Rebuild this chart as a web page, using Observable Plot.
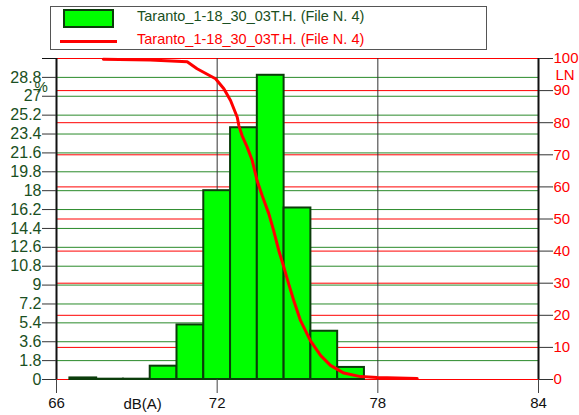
<!DOCTYPE html>
<html>
<head>
<meta charset="utf-8">
<script src="https://cdn.jsdelivr.net/npm/d3@7"></script>
<script src="https://cdn.jsdelivr.net/npm/@observablehq/plot@0.6"></script>
<style>
  html, body { margin: 0; padding: 0; background: #fff; }
  #chart { position: relative; width: 579px; height: 415px; font-family: "Liberation Sans", Arial, sans-serif; }
  #legend { position: absolute; left: 50px; top: 6px; width: 437px; height: 44px; box-sizing: border-box;
            border: 1px solid #555; background: #fff; font-size: 14.5px; line-height: 17px; }
  #legend .swatch { position: absolute; left: 12px; top: 2px; width: 51px; height: 19px; box-sizing: border-box;
                    background: #00ff00; border: 2px solid #0b3d0b; }
  #legend .line { position: absolute; left: 9px; top: 33px; width: 57px; height: 3px; background: #ff0000; }
  #legend .t1 { position: absolute; left: 86px; top: 1px; color: #1a4f22; white-space: nowrap; }
  #legend .t2 { position: absolute; left: 86px; top: 24px; color: #ff0000; white-space: nowrap; }
</style>
</head>
<body>
<div id="chart">
  <div id="legend">
    <div class="swatch"></div><div class="t1">Taranto_1-18_30_03T.H. (File N. 4)</div>
    <div class="line"></div><div class="t2">Taranto_1-18_30_03T.H. (File N. 4)</div>
  </div>
</div>
<script>
// Histogram of sound levels: 1 dB classes centred on each integer level
const binCenters = [67, 68, 69, 70, 71, 72, 73, 74, 75, 76, 77];
const binPercent = [0.15, 0.03, 0.03, 1.27, 5.2, 18.0, 24.0, 29.0, 16.35, 4.6, 1.15];

// Cumulative exceedance curve LN (% of time the level is exceeded)
const lnLevels = [67.75, 69.5, 70.88, 71.25, 71.56, 71.94, 72.25, 72.5, 72.75, 72.81, 72.93, 73.12, 73.31,
                  73.49, 73.68, 73.93, 74.11, 74.3, 74.49, 74.67, 74.86, 75.11, 75.48, 75.86, 76.23, 76.73,
                  77.35, 77.97, 79.47];
const lnPercent = [99.8, 99.5, 99.0, 96.8, 95.4, 93.7, 90.6, 86.9, 81.7, 79.1, 76.0, 72.4, 68.2,
                   62.0, 57.3, 51.6, 46.4, 40.2, 35.0, 29.8, 24.6, 18.4, 12.1, 7.5, 4.4, 2.0,
                   0.9, 0.6, 0.3];

// Axis ticks
const xTicks = [66, 72, 78, 84];
const leftTicks = [0, 1.8, 3.6, 5.4, 7.2, 9, 10.8, 12.6, 14.4, 16.2, 18, 19.8, 21.6, 23.4, 25.2, 27, 28.8];
const leftMax = 30.6;
const lnTicks = [0, 10, 20, 30, 40, 50, 60, 70, 80, 90, 100];

// The right-hand LN axis (0-100) shares the frame with the % axis (0-30.6)
const lnToY = v => v * leftMax / 100;

const bars = binCenters.map((c, i) => ({x1: c - 0.5, x2: c + 0.5, y: binPercent[i]}));
const curve = lnLevels.map((l, i) => ({x: l, y: lnToY(lnPercent[i])}));

const green = "#1a4f22";
const grid = "#2a8a2a";

const chart = Plot.plot({
  width: 579,
  height: 415,
  marginLeft: 56,
  marginRight: 41,
  marginTop: 58,
  marginBottom: 36,
  style: {fontFamily: "'Liberation Sans', Arial, sans-serif", fontSize: "16px", background: "transparent", overflow: "visible"},
  x: {domain: [66, 84], label: null},
  y: {domain: [0, leftMax], label: null},
  marks: [
    // horizontal grid: green for the % axis, red for the LN axis
    Plot.ruleY(leftTicks.filter(d => d > 0), {stroke: grid, strokeWidth: 1}),
    Plot.ruleY(lnTicks.map(lnToY), {stroke: "#ff0000", strokeWidth: 1}),
    // vertical grid
    Plot.ruleX([72, 78], {y1: 0, y2: leftMax, stroke: "#333", strokeWidth: 1}),
    // histogram
    Plot.rectY(bars, {x1: "x1", x2: "x2", y: "y", fill: "#00ff00", stroke: "#0b3d0b", strokeWidth: 2}),
    // exceedance curve
    Plot.line(curve, {x: "x", y: "y", stroke: "#ff0000", strokeWidth: 3, strokeLinejoin: "round"}),
    // frame sides
    Plot.ruleX([66, 84], {y1: 0, y2: leftMax, stroke: "#111", strokeWidth: 2}),
    // axes
    Plot.axisX(xTicks, {anchor: "bottom", tickSize: 14, tickPadding: 4, stroke: "#444", fill: "#111", fontSize: 15,
      label: null, tickFormat: d => String(d)}),
    Plot.axisY(leftTicks, {anchor: "left", tickSize: 14, tickPadding: 1, stroke: "#333", fill: green, label: null,
      tickFormat: d => String(+d.toFixed(1))}),
    Plot.axisY([leftMax], {anchor: "left", tickSize: 14, stroke: "#111", label: null, tickFormat: () => ""}),
    Plot.axisY(lnTicks.map(lnToY), {anchor: "right", tickSize: 14, tickPadding: 1, stroke: "#333", fill: "#ff0000",
      fontSize: 15, label: null, tickFormat: d => String(Math.round(d * 100 / leftMax))}),
    // axis titles
    Plot.text(["%"], {frameAnchor: "top-left", lineAnchor: "middle", dx: -22, dy: 29, fill: green, fontSize: 15}),
    Plot.text(["LN"], {frameAnchor: "top-right", lineAnchor: "middle", textAnchor: "start", dx: 17, dy: 17, fill: "#ff0000", fontSize: 15}),
    Plot.text(["dB(A)"], {frameAnchor: "bottom-left", lineAnchor: "middle", dx: 67, dy: 25, fill: "#111", fontSize: 15})
  ]
});
chart.style.position = "absolute";
chart.style.left = "0";
chart.style.top = "0";
const holder = document.getElementById("chart");
holder.insertBefore(chart, holder.firstChild);
</script>
</body>
</html>
